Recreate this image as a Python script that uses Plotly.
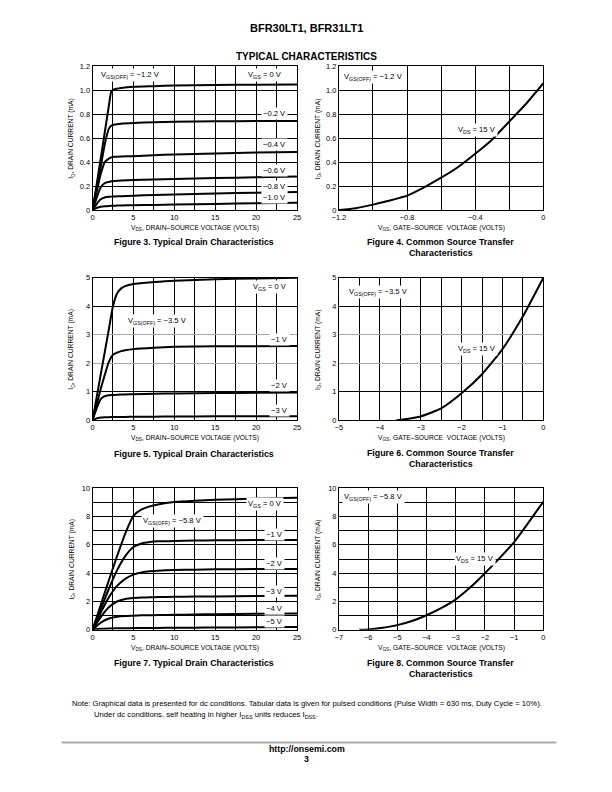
import plotly.graph_objects as go

FONT = "Liberation Sans, Arial, Helvetica, sans-serif"

# ---------------- data ----------------
# Figure 3 (drain characteristics, VGS(off) = -1.2 V)
vds3 = [0, 0.5, 1, 1.5, 2, 2.3, 2.7, 3.5, 5, 7.5, 10, 15, 20, 25]
id3_0v = [0, 0.21, 0.43, 0.65, 0.87, 0.99, 1.01, 1.02, 1.03, 1.035, 1.04, 1.045, 1.048, 1.05]
id3_m02 = [0, 0.18, 0.36, 0.55, 0.68, 0.705, 0.715, 0.722, 0.728, 0.733, 0.738, 0.741, 0.744, 0.745]
id3_m04 = [0, 0.15, 0.3, 0.4, 0.43, 0.44, 0.445, 0.448, 0.45, 0.458, 0.465, 0.472, 0.48, 0.485]
id3_m06 = [0, 0.1, 0.19, 0.225, 0.235, 0.24, 0.243, 0.246, 0.25, 0.255, 0.26, 0.267, 0.274, 0.28]
id3_m08 = [0, 0.05, 0.09, 0.105, 0.11, 0.112, 0.114, 0.116, 0.12, 0.125, 0.13, 0.138, 0.145, 0.15]
id3_m10 = [0, 0.017, 0.027, 0.031, 0.033, 0.035, 0.036, 0.038, 0.04, 0.043, 0.046, 0.051, 0.056, 0.06]

# Figure 4 (transfer, VDS = 15 V)
vgs4 = [-1.2, -1.1, -1.0, -0.9, -0.8, -0.7, -0.6, -0.5, -0.4, -0.3, -0.2, -0.1, 0]
id4 = [0, 0.015, 0.045, 0.08, 0.12, 0.19, 0.27, 0.36, 0.47, 0.59, 0.74, 0.89, 1.06]

# Figure 5 (drain characteristics, VGS(off) = -3.5 V)
vds5 = [0, 0.5, 1, 1.5, 2, 2.5, 3, 3.5, 4, 5, 7.5, 10, 15, 20, 25]
id5_0v = [0, 0.8, 1.6, 2.4, 3.2, 4.0, 4.45, 4.63, 4.71, 4.78, 4.85, 4.9, 4.95, 4.98, 5.0]
id5_m1 = [0, 0.55, 1.1, 1.6, 2.05, 2.3, 2.38, 2.43, 2.46, 2.5, 2.55, 2.58, 2.6, 2.6, 2.61]
id5_m2 = [0, 0.42, 0.75, 0.85, 0.88, 0.89, 0.9, 0.905, 0.91, 0.92, 0.935, 0.945, 0.96, 0.97, 0.98]
id5_m3 = [0, 0.07, 0.1, 0.11, 0.115, 0.118, 0.12, 0.122, 0.124, 0.127, 0.132, 0.136, 0.142, 0.147, 0.15]

# Figure 6 (transfer, VDS = 15 V)
vgs6 = [-3.6, -3.5, -3.0, -2.5, -2.0, -1.5, -1.0, -0.5, 0]
id6 = [0, 0.02, 0.14, 0.42, 0.95, 1.62, 2.5, 3.65, 5.0]

# Figure 7 (drain characteristics, VGS(off) = -5.8 V)
vds7 = [0, 1, 2, 3, 4, 5, 6, 7, 8, 10, 12.5, 15, 20, 25]
id7_0v = [0, 1.75, 3.5, 5.2, 6.8, 8.05, 8.5, 8.72, 8.85, 9.02, 9.12, 9.18, 9.27, 9.33]
id7_m1 = [0, 1.45, 2.9, 4.2, 5.2, 5.85, 6.1, 6.2, 6.25, 6.28, 6.3, 6.32, 6.34, 6.35]
id7_m2 = [0, 1.2, 2.3, 3.1, 3.6, 3.9, 4.05, 4.13, 4.18, 4.23, 4.25, 4.27, 4.29, 4.3]
id7_m3 = [0, 0.9, 1.6, 2.0, 2.18, 2.25, 2.28, 2.3, 2.31, 2.33, 2.35, 2.36, 2.38, 2.4]
id7_m4 = [0, 0.5, 0.8, 0.93, 0.98, 1.0, 1.02, 1.03, 1.04, 1.06, 1.08, 1.1, 1.13, 1.15]
id7_m5 = [0, 0.07, 0.1, 0.11, 0.115, 0.12, 0.125, 0.13, 0.135, 0.14, 0.15, 0.16, 0.18, 0.2]

# Figure 8 (transfer, VDS = 15 V)
vgs8 = [-6.3, -6, -5.5, -5, -4.5, -4, -3.5, -3, -2.5, -2, -1.5, -1, -0.5, 0]
id8 = [0, 0.03, 0.15, 0.33, 0.62, 1.03, 1.53, 2.15, 3.0, 4.0, 5.06, 6.2, 7.6, 9.05]

# tick labels
vds_ticks = [0, 5, 10, 15, 20, 25]
vds_text = ["0", "5", "10", "15", "20", "25"]
vds_grid = [2.5, 5, 7.5, 10, 12.5, 15, 17.5, 20, 22.5]
y12_ticks = [0, 0.2, 0.4, 0.6, 0.8, 1.0, 1.2]
y12_text = ["0", "0.2", "0.4", "0.6", "0.8", "1.0", "1.2"]
x4_ticks = [-1.2, -0.8, -0.4, 0]
x4_text = ["\u22121.2", "\u22120.8", "\u22120.4", "0"]
x4_grid = [-1.0, -0.8, -0.6, -0.4, -0.2]
y5_ticks = [0, 1, 2, 3, 4, 5]
y5_text = ["0", "1", "2", "3", "4", "5"]
y5_grid_dark = [1, 4]
y5_grid_light = [2, 3]
x6_ticks = [-5, -4, -3, -2, -1, 0]
x6_text = ["\u22125", "\u22124", "\u22123", "\u22122", "\u22121", "0"]
x6_grid = [-4.5, -4, -3.5, -3, -2.5, -2, -1.5, -1, -0.5]
y10_ticks = [0, 2, 4, 6, 8, 10]
y10_text = ["0", "2", "4", "6", "8", "10"]
y10_grid = [1, 2, 3, 4, 5, 6, 7, 8, 9]
x8_ticks = [-7, -6, -5, -4, -3, -2, -1, 0]
x8_text = ["\u22127", "\u22126", "\u22125", "\u22124", "\u22123", "\u22122", "\u22121", "0"]
x8_grid = [-6, -5, -4, -3, -2, -1]

# ---------------- layout helpers ----------------
W, H = 612, 792
# calibration of page position -> figure position
AX, SX = 13.3, 0.9845
AY, SY = 12.4, 0.9915


def px(x):
    return ((x - AX) / SX) / W


def py(y):
    return 1 - ((y - AY) / SY) / H


cols = [(91, 296), (338, 543)]
rows = [(67, 211), (279, 422), (490, 632)]

TICK = 7.4
LAB = 7.6

fig = go.Figure()
layout = dict(
    width=W, height=H, autosize=False,
    margin=dict(l=0, r=0, t=0, b=0),
    paper_bgcolor="white", plot_bgcolor="white",
    showlegend=False,
    font=dict(family=FONT, size=TICK, color="black"),
)


def axis(domain, rng, tickvals, ticktext, gridvals, anchor, majorgrid=True):
    return dict(
        domain=domain, range=rng, anchor=anchor,
        tickmode="array", tickvals=tickvals, ticktext=ticktext,
        showgrid=majorgrid, gridcolor="black", gridwidth=1,
        minor=dict(tickmode="array", tickvals=gridvals, showgrid=True,
                   gridcolor="black", gridwidth=1, ticks=""),
        showline=True, mirror=True, linecolor="black", linewidth=1,
        zeroline=False, ticks="", ticklen=0,
        tickfont=dict(family=FONT, size=TICK, color="black"),
        fixedrange=True,
    )


panels = [
    (0, 0, [0, 25], vds_ticks, vds_text, vds_grid, [0, 1.2], y12_ticks, y12_text, y12_ticks, True),
    (1, 0, [-1.2, 0], x4_ticks, x4_text, x4_grid, [0, 1.2], y12_ticks, y12_text, y12_ticks, True),
    (0, 1, [0, 25], vds_ticks, vds_text, vds_grid, [0, 5], y5_ticks, y5_text, y5_grid_dark, False),
    (1, 1, [-5, 0], x6_ticks, x6_text, x6_grid, [0, 5], y5_ticks, y5_text, y5_grid_dark, False),
    (0, 2, [0, 25], vds_ticks, vds_text, vds_grid, [0, 10], y10_ticks, y10_text, y10_grid, True),
    (1, 2, [-7, 0], x8_ticks, x8_text, x8_grid, [0, 10], y10_ticks, y10_text, y10_grid, True),
]

for i, (c, r, xr, xt, xtt, xg, yr, yt, ytt, yg, mg) in enumerate(panels):
    n = "" if i == 0 else str(i + 1)
    xd = [px(cols[c][0]), px(cols[c][1])]
    yd = [py(rows[r][1]), py(rows[r][0])]
    layout["xaxis" + n] = axis(xd, xr, xt, xtt, xg, "y" + n)
    layout["yaxis" + n] = axis(yd, yr, yt, ytt, yg, "x" + n, majorgrid=mg)

# lighter (grey) grid lines at 2 and 3 mA in Figures 5 and 6
for k, base in ((7, 3), (8, 4)):
    layout["yaxis" + str(k)] = dict(
        overlaying="y" + str(base), anchor="x" + str(base), range=[0, 5],
        tickmode="array", tickvals=y5_grid_light, showticklabels=False,
        showgrid=True, gridcolor="#a8a8a8", gridwidth=1.2,
        showline=False, zeroline=False, ticks="", fixedrange=True,
    )

fig.update_layout(**layout)

curve = dict(mode="lines", line=dict(color="black", width=2, shape="spline", smoothing=0.5),
             hoverinfo="skip")

fig.add_trace(go.Scatter(x=[], y=[], xaxis="x3", yaxis="y7", mode="lines", hoverinfo="skip"))
fig.add_trace(go.Scatter(x=[], y=[], xaxis="x4", yaxis="y8", mode="lines", hoverinfo="skip"))

for yv in [id3_0v, id3_m02, id3_m04, id3_m06, id3_m08, id3_m10]:
    fig.add_trace(go.Scatter(x=vds3, y=yv, xaxis="x", yaxis="y", **curve))
fig.add_trace(go.Scatter(x=vgs4, y=id4, xaxis="x2", yaxis="y2", **curve))
for yv in [id5_0v, id5_m1, id5_m2, id5_m3]:
    fig.add_trace(go.Scatter(x=vds5, y=yv, xaxis="x3", yaxis="y3", **curve))
fig.add_trace(go.Scatter(x=vgs6, y=id6, xaxis="x4", yaxis="y4", **curve))
for yv in [id7_0v, id7_m1, id7_m2, id7_m3, id7_m4, id7_m5]:
    fig.add_trace(go.Scatter(x=vds7, y=yv, xaxis="x5", yaxis="y5", **curve))
fig.add_trace(go.Scatter(x=vgs8, y=id8, xaxis="x6", yaxis="y6", **curve))

ann = []


def lab(text, x, y, n):
    ann.append(dict(text=text, x=x, y=y, xref="x" + n, yref="y" + n, showarrow=False,
                    bgcolor="white", borderpad=1,
                    font=dict(family=FONT, size=LAB, color="black")))


M = "\u2212"
lab("V<sub>GS(OFF)</sub> = " + M + "1.2 V", 4.6, 1.13, "")
lab("V<sub>GS</sub> = 0 V", 21.1, 1.13, "")
lab(M + "0.2 V", 22.3, 0.81, "")
lab(M + "0.4 V", 22.3, 0.55, "")
lab(M + "0.6 V", 22.3, 0.33, "")
lab(M + "0.8 V", 22.3, 0.2, "")
lab(M + "1.0 V", 22.3, 0.105, "")

lab("V<sub>GS(OFF)</sub> = " + M + "1.2 V", -0.995, 1.11, "2")
lab("V<sub>DS</sub> = 15 V", -0.39, 0.667, "2")

lab("V<sub>GS</sub> = 0 V", 21.7, 4.69, "3")
lab("V<sub>GS(OFF)</sub> = " + M + "3.5 V", 7.97, 3.49, "3")
lab(M + "1 V", 22.9, 2.84, "3")
lab(M + "2 V", 22.9, 1.21, "3")
lab(M + "3 V", 22.9, 0.36, "3")

lab("V<sub>GS(OFF)</sub> = " + M + "3.5 V", -4.04, 4.5, "4")
lab("V<sub>DS</sub> = 15 V", -1.63, 2.52, "4")

lab("V<sub>GS</sub> = 0 V", 21.1, 8.87, "5")
lab("V<sub>GS(OFF)</sub> = " + M + "5.8 V", 9.77, 7.65, "5")
lab(M + "1 V", 22.2, 6.76, "5")
lab(M + "2 V", 22.2, 4.65, "5")
lab(M + "3 V", 22.2, 2.72, "5")
lab(M + "4 V", 22.2, 1.5, "5")
lab(M + "5 V", 22.2, 0.56, "5")

lab("V<sub>GS(OFF)</sub> = " + M + "5.8 V", -5.82, 9.41, "6")
lab("V<sub>DS</sub> = 15 V", -2.33, 5.0, "6")


def ptext(text, x, y, size=7, bold=False, angle=0, xanchor="center", color="black"):
    if bold:
        text = "<b>" + text + "</b>"
    ann.append(dict(text=text, x=px(x), y=py(y), xref="paper", yref="paper",
                    showarrow=False, textangle=angle, xanchor=xanchor, yanchor="middle",
                    font=dict(family=FONT, size=size, color=color)))


# header
ptext("BFR30LT1, BFR31LT1", 306, 28, size=11, bold=True)
ptext("TYPICAL CHARACTERISTICS", 306, 57, size=10, bold=True)

ylab = "I<sub>D</sub>, DRAIN CURRENT (mA)"
xds = "V<sub>DS</sub>, DRAIN\u2013SOURCE VOLTAGE (VOLTS)"
xgs = "V<sub>GS</sub>, GATE\u2013SOURCE  VOLTAGE (VOLTS)"
AXT = 6.7
for r, (top, bot) in enumerate(rows):
    mid = (top + bot) / 2
    ptext(ylab, 70, mid, size=AXT, angle=-90)
    ptext(ylab, 317, mid, size=AXT, angle=-90)
    ptext(xds, (cols[0][0] + cols[0][1]) / 2, bot + 18, size=AXT)
    ptext(xgs, (cols[1][0] + cols[1][1]) / 2, bot + 18, size=AXT)

CAP = 8.8
ptext("Figure 3. Typical Drain Characteristics", 193, 243, size=CAP, bold=True)
ptext("Figure 4. Common Source Transfer", 440, 243, size=CAP, bold=True)
ptext("Characteristics", 440, 254, size=CAP, bold=True)
ptext("Figure 5. Typical Drain Characteristics", 193, 456, size=CAP, bold=True)
ptext("Figure 6. Common Source Transfer", 440, 455, size=CAP, bold=True)
ptext("Characteristics", 440, 466, size=CAP, bold=True)
ptext("Figure 7. Typical Drain Characteristics", 193, 665, size=CAP, bold=True)
ptext("Figure 8. Common Source Transfer", 440, 665, size=CAP, bold=True)
ptext("Characteristics", 440, 676, size=CAP, bold=True)

ptext("Note: Graphical data is presented for dc conditions. Tabular data is given for pulsed conditions "
      "(Pulse Width = 630 ms, Duty Cycle = 10%).", 68, 706, size=7.7, xanchor="left")
ptext("Under dc conditions, self heating in higher I<sub>DSS</sub> units reduces I<sub>DSS</sub>.",
      90, 717, size=7.7, xanchor="left")
ptext("http://onsemi.com", 306, 752, size=8.8, bold=True)
ptext("3", 306, 762, size=8.8, bold=True)

fig.update_layout(annotations=ann)
fig.add_shape(type="line", xref="paper", yref="paper", x0=px(60), x1=px(556), y0=py(745), y1=py(745),
              line=dict(color="#aaaaaa", width=2))

fig.write_html("out.html")
